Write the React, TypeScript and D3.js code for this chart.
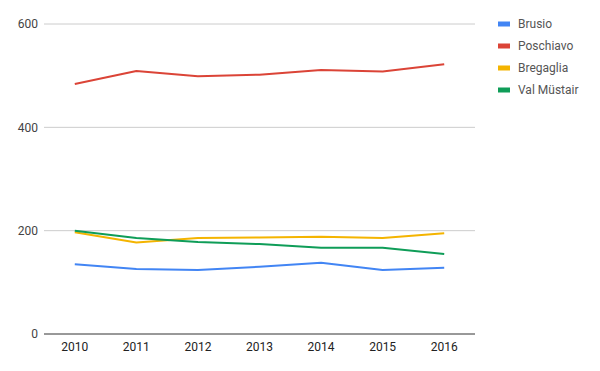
import React, { useEffect, useRef } from 'react';
import * as d3 from 'd3';

const years = ['2010', '2011', '2012', '2013', '2014', '2015', '2016'];
const brusio = [135, 126, 124, 130, 138, 124, 128];
const poschiavo = [484, 509, 499, 502, 511, 508, 522];
const bregaglia = [197, 177, 186, 187, 188, 186, 195];
const valMustair = [200, 186, 178, 174, 167, 167, 155];
const yTicks = [0, 200, 400, 600];

const seriesNames = ['Brusio', 'Poschiavo', 'Bregaglia', 'Val Müstair'];
const seriesColors = ['#4285f4', '#db4437', '#f4b400', '#0f9d58'];

const W = 600;
const H = 371;

export default function App() {
  const ref = useRef<SVGSVGElement>(null);

  useEffect(() => {
    const svg = d3.select(ref.current);
    svg.selectAll('*').remove();

    const series = [brusio, poschiavo, bregaglia, valMustair].map((values, i) => ({
      name: seriesNames[i],
      color: seriesColors[i],
      values,
    }));

    const x = d3.scalePoint<string>()
      .domain(years)
      .range([44, 475])
      .padding(0.5);
    const y = d3.scaleLinear()
      .domain([0, 600])
      .range([334, 24]);

    const font = 'Roboto, Arial, sans-serif';

    // gridlines
    svg.append('g')
      .selectAll('line')
      .data(yTicks.filter(t => t !== 0))
      .join('line')
        .attr('x1', 44)
        .attr('x2', 475)
        .attr('y1', d => y(d))
        .attr('y2', d => y(d))
        .attr('stroke', '#cccccc')
        .attr('stroke-width', 1);

    // y labels
    svg.append('g')
      .attr('font-family', font)
      .attr('font-size', 12)
      .attr('fill', '#444')
      .attr('text-anchor', 'end')
      .selectAll('text')
      .data(yTicks)
      .join('text')
        .attr('x', 38)
        .attr('y', d => y(d))
        .attr('dy', '0.35em')
        .text(d => d);

    // x labels
    svg.append('g')
      .attr('font-family', font)
      .attr('font-size', 12)
      .attr('fill', '#222')
      .attr('text-anchor', 'middle')
      .selectAll('text')
      .data(years)
      .join('text')
        .attr('x', d => x(d)!)
        .attr('y', 351)
        .text(d => d);

    const line = d3.line<number>()
      .x((_, i) => x(years[i])!)
      .y(d => y(d));

    svg.append('g')
      .selectAll('path')
      .data(series)
      .join('path')
        .attr('fill', 'none')
        .attr('stroke', d => d.color)
        .attr('stroke-width', 2)
        .attr('stroke-linejoin', 'round')
        .attr('d', d => line(d.values));

    // baseline
    svg.append('line')
      .attr('x1', 44)
      .attr('x2', 475)
      .attr('y1', y(0))
      .attr('y2', y(0))
      .attr('stroke', '#333333')
      .attr('stroke-width', 1);

    // legend
    const legend = svg.append('g')
      .selectAll('g')
      .data(series)
      .join('g')
        .attr('transform', (_, i) => `translate(498,${24 + i * 22})`);
    legend.append('rect')
      .attr('x', 0)
      .attr('y', -2.5)
      .attr('width', 12)
      .attr('height', 5)
      .attr('fill', d => d.color);
    legend.append('text')
      .attr('x', 20)
      .attr('dy', '0.35em')
      .attr('font-family', font)
      .attr('font-size', 12)
      .attr('fill', '#555')
      .text(d => d.name);
  }, []);

  return (
    <svg
      ref={ref}
      width={W}
      height={H}
      style={{ position: 'absolute', left: 0, top: 0, background: '#fff' }}
    />
  );
}
